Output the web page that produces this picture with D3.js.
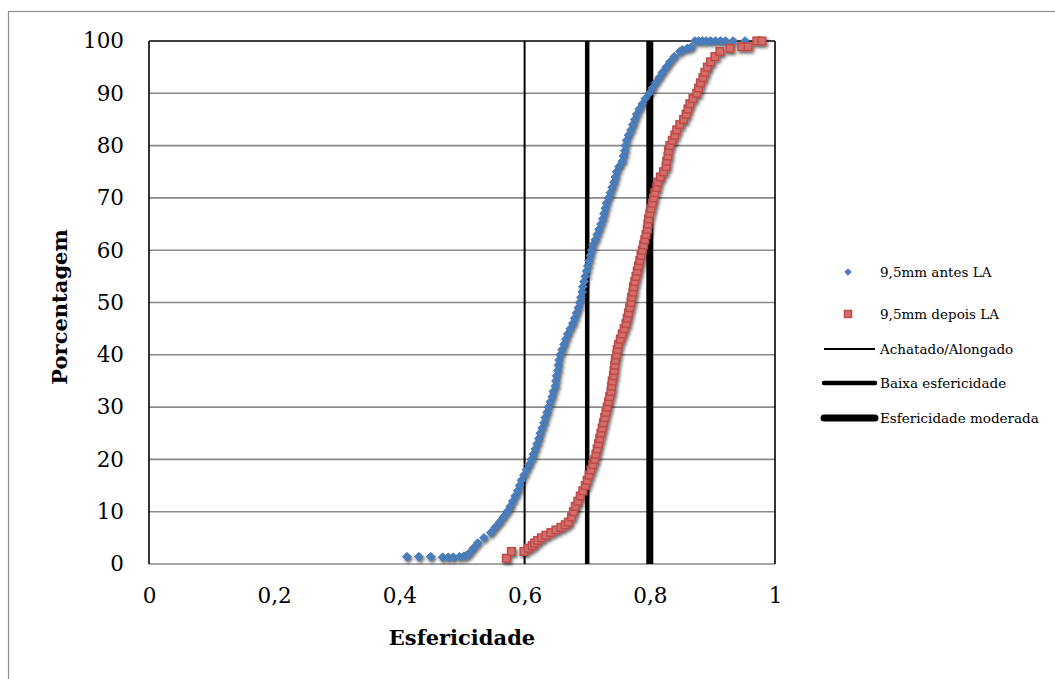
<!DOCTYPE html>
<html>
<head>
<meta charset="utf-8">
<script src="https://cdn.jsdelivr.net/npm/d3@7"></script>
<style>
  body { margin: 0; background: #fff; }
  svg { display: block; }
  text { font-family: "DejaVu Serif", "Liberation Serif", serif; fill: #000; }
</style>
</head>
<body>
<svg id="chart" width="1055" height="679"></svg>
<script>
// ---- data ----
const xTicks = [0, 0.2, 0.4, 0.6, 0.8, 1];
const xTickLabels = ["0", "0,2", "0,4", "0,6", "0,8", "1"];
const yTicks = [0, 10, 20, 30, 40, 50, 60, 70, 80, 90, 100];

// 9,5mm antes LA : [esfericidade, porcentagem]
const antesX = [0.412,0.431,0.450,0.469,0.478,0.486,0.496,0.503,0.507,
  0.511,0.518,0.525,0.535,0.546,0.553,0.560,0.566,0.572,0.577,0.581,0.585,0.589,0.592,0.595,0.599,0.603,0.607,0.611,
  0.614,0.617,0.620,0.623,0.625,0.628,0.631,0.633,0.636,0.638,0.641,0.644,0.646,0.649,0.650,0.651,0.653,0.654,0.655,
  0.657,0.660,0.663,0.666,0.669,0.673,0.677,0.680,0.683,0.686,0.688,0.690,0.692,0.693,0.695,0.697,0.699,0.701,0.703,
  0.705,0.707,0.709,0.713,0.716,0.719,0.722,0.725,0.727,0.729,0.731,0.734,0.737,0.740,0.743,0.745,0.747,0.751,0.756,
  0.758,0.760,0.761,0.763,0.766,0.770,0.773,0.776,0.779,0.783,0.788,0.793,0.799,0.804,0.809,0.815,0.820,0.826,0.832,
  0.839,0.848,0.852,0.860,0.866,
  0.872,0.878,0.884,0.890,0.897,0.905,0.913,0.921,0.933,0.952];
const antesY = [1.4,1.4,1.4,1.3,1.3,1.3,1.4,1.5,1.6,
  2,3,4,5,6,7,8,9,10,11,12,13,14,15,16,17,18,19,20,
  21,22,23,24,25,26,27,28,29,30,31,32,33,34,35,36,37,38,39,
  40,41,42,43,44,45,46,47,48,49,50,51,52,53,54,55,56,57,58,
  59,60,61,62,63,64,65,66,67,68,69,70,71,72,73,74,75,76,77,
  78,79,80,81,82,83,84,85,86,87,88,89,90,91,92,93,94,95,96,
  97,98,98.3,98.6,98.8,
  100,100,100,100,100,100,100,100,100,100];

// 9,5mm depois LA
const depoisX = [0.571,0.579,0.599,0.606,0.612,0.616,0.621,0.627,0.634,0.642,0.650,0.658,0.665,0.670,0.675,
  0.678,0.681,0.685,0.689,0.693,0.697,0.700,0.703,0.706,0.709,0.712,0.714,0.716,0.718,0.720,0.722,0.724,0.726,
  0.728,0.730,0.732,0.734,0.736,0.738,0.739,0.740,0.742,0.743,0.744,0.745,0.747,0.748,0.750,0.753,0.756,0.759,
  0.762,0.764,0.766,0.768,0.770,0.771,0.773,0.774,0.776,0.778,0.780,0.782,0.784,0.786,0.788,0.790,0.792,0.794,
  0.796,0.797,0.798,0.800,0.802,0.804,0.806,0.808,0.811,0.813,0.817,0.822,0.826,0.827,0.829,0.830,0.832,0.836,
  0.840,0.843,0.848,0.854,0.858,0.861,0.864,0.869,0.875,0.878,0.881,0.885,0.888,0.892,0.897,0.904,0.912,0.928,
  0.947,0.957,0.971,0.979];
const depoisY = [1.1,2.4,2.4,3,3.5,4,4.5,5,5.5,6,6.5,7,7.5,8,9,
  10,11,12,13,14,15,16,17,18,19,20,21,22,23,24,25,26,27,
  28,29,30,31,32,33,34,35,36,37,38,39,40,41,42,43,44,45,
  46,47,48,49,50,51,52,53,54,55,56,57,58,59,60,61,62,63,
  64,65,66,67,68,69,70,71,72,73,74,75,76,77,78,79,80,81,
  82,83,84,85,86,87,88,89,90,91,92,93,94,95,96,97,98,98.6,
  98.9,98.9,100,100];

const refLines = [
  { name: "Achatado/Alongado", value: 0.6, width: 2 },
  { name: "Baixa esfericidade", value: 0.7, width: 4.5 },
  { name: "Esfericidade moderada", value: 0.8, width: 7 }
];
const seriesNames = ["9,5mm antes LA", "9,5mm depois LA"];

// ---- chart ----
const svg = d3.select("#chart");
const pLeft = 149, pRight = 775, pTop = 41, pBottom = 564;
const x = d3.scaleLinear().domain([0, 1]).range([pLeft, pRight]);
const y = d3.scaleLinear().domain([0, 100]).range([pBottom, pTop]);

// outer chart border
svg.append("rect").attr("x", 8.5).attr("y", 11.5).attr("width", 1100).attr("height", 720)
  .attr("fill", "none").attr("stroke", "#8c8c8c").attr("stroke-width", 1.2);

const defs = svg.append("defs");
const f = defs.append("filter").attr("id", "sh").attr("x", "-50%").attr("y", "-50%").attr("width", "200%").attr("height", "200%");
f.append("feDropShadow").attr("dx", 1.5).attr("dy", 2.2).attr("stdDeviation", 1.4)
  .attr("flood-color", "#000").attr("flood-opacity", 0.6);

// gridlines
svg.append("g").selectAll("line").data(yTicks.filter(d => d > 0 && d < 100)).join("line")
  .attr("x1", pLeft).attr("x2", pRight)
  .attr("y1", d => y(d)).attr("y2", d => y(d))
  .attr("stroke", "#8a8a8a").attr("stroke-width", 1.6);

// axes
const yAxis = d3.axisLeft(y).tickValues(yTicks).tickSize(0).tickPadding(25);
const gy = svg.append("g").attr("transform", `translate(${pLeft},0)`).call(yAxis);
gy.select(".domain").remove();
gy.selectAll("text").style("font-size", "21.5px").style("font-family", "DejaVu Serif, serif");

const xAxis = d3.axisBottom(x).tickValues(xTicks).tickFormat((d, i) => xTickLabels[i]).tickSize(0).tickPadding(24);
const gx = svg.append("g").attr("transform", `translate(0,${pBottom})`).call(xAxis);
gx.select(".domain").remove();
gx.selectAll("text").style("font-size", "21.5px").style("font-family", "DejaVu Serif, serif");

// plot frame
svg.append("line").attr("x1", pLeft).attr("x2", pRight).attr("y1", pBottom).attr("y2", pBottom)
  .attr("stroke", "#8a8a8a").attr("stroke-width", 1.6);
svg.append("line").attr("x1", pLeft).attr("x2", pRight).attr("y1", pTop).attr("y2", pTop)
  .attr("stroke", "#000").attr("stroke-width", 1.6);
svg.append("line").attr("x1", pLeft).attr("x2", pLeft).attr("y1", pTop).attr("y2", pBottom)
  .attr("stroke", "#000").attr("stroke-width", 1.6);
svg.append("line").attr("x1", pRight).attr("x2", pRight).attr("y1", pTop).attr("y2", pBottom)
  .attr("stroke", "#000").attr("stroke-width", 1.6);

// reference lines
svg.append("g").selectAll("line").data(refLines).join("line")
  .attr("x1", d => x(d.value)).attr("x2", d => x(d.value))
  .attr("y1", y(0)).attr("y2", y(100))
  .attr("stroke", "#000").attr("stroke-width", d => d.width);

// series
const antes = antesX.map((v, i) => [v, antesY[i]]);
const depois = depoisX.map((v, i) => [v, depoisY[i]]);
const diamond = d3.symbol().type(d3.symbolSquare).size(38);

svg.append("g").attr("filter", "url(#sh)").selectAll("path").data(antes).join("path")
  .attr("d", diamond)
  .attr("transform", d => `translate(${x(d[0])},${y(d[1])}) rotate(45)`)
  .attr("fill", "#4a7ebb").attr("stroke", "#3f73b3").attr("stroke-width", 0.8);

svg.append("g").attr("filter", "url(#sh)").selectAll("rect").data(depois).join("rect")
  .attr("x", d => x(d[0]) - 3.8).attr("y", d => y(d[1]) - 3.8)
  .attr("width", 7.6).attr("height", 7.6)
  .attr("fill", "#d46e6b").attr("stroke", "#be4b48").attr("stroke-width", 1.5);

// axis titles
svg.append("text").attr("x", x(0.5)).attr("y", 645).attr("text-anchor", "middle")
  .style("font-size", "21px").style("font-weight", "bold").text("Esfericidade");
svg.append("text").attr("transform", `translate(67,307) rotate(-90)`).attr("text-anchor", "middle")
  .style("font-size", "21px").style("font-weight", "bold").text("Porcentagem");

// legend
const lg = svg.append("g");
const lx = 848, ltx = 880;
const legFont = "13.5px";
lg.append("path").attr("d", d3.symbol().type(d3.symbolSquare).size(22)).attr("transform", `translate(${lx},272) rotate(45)`)
  .attr("fill", "#4a7ebb").attr("stroke", "#3f73b3").attr("stroke-width", 0.8);
lg.append("text").attr("x", ltx).attr("y", 277).style("font-size", legFont).text(seriesNames[0]);
lg.append("rect").attr("x", lx - 3.5).attr("y", 314 - 3.5).attr("width", 7).attr("height", 7)
  .attr("fill", "#d46e6b").attr("stroke", "#be4b48").attr("stroke-width", 1.5);
lg.append("text").attr("x", ltx).attr("y", 319).style("font-size", legFont).text(seriesNames[1]);
const legY = [349, 383, 418];
refLines.forEach((r, i) => {
  lg.append("line").attr("x1", 824).attr("x2", 875).attr("y1", legY[i]).attr("y2", legY[i])
    .attr("stroke", "#000").attr("stroke-width", r.width).attr("stroke-linecap", i === 0 ? "butt" : "round");
  lg.append("text").attr("x", 880).attr("y", legY[i] + 5).style("font-size", legFont).text(r.name);
});
</script>
</body>
</html>
